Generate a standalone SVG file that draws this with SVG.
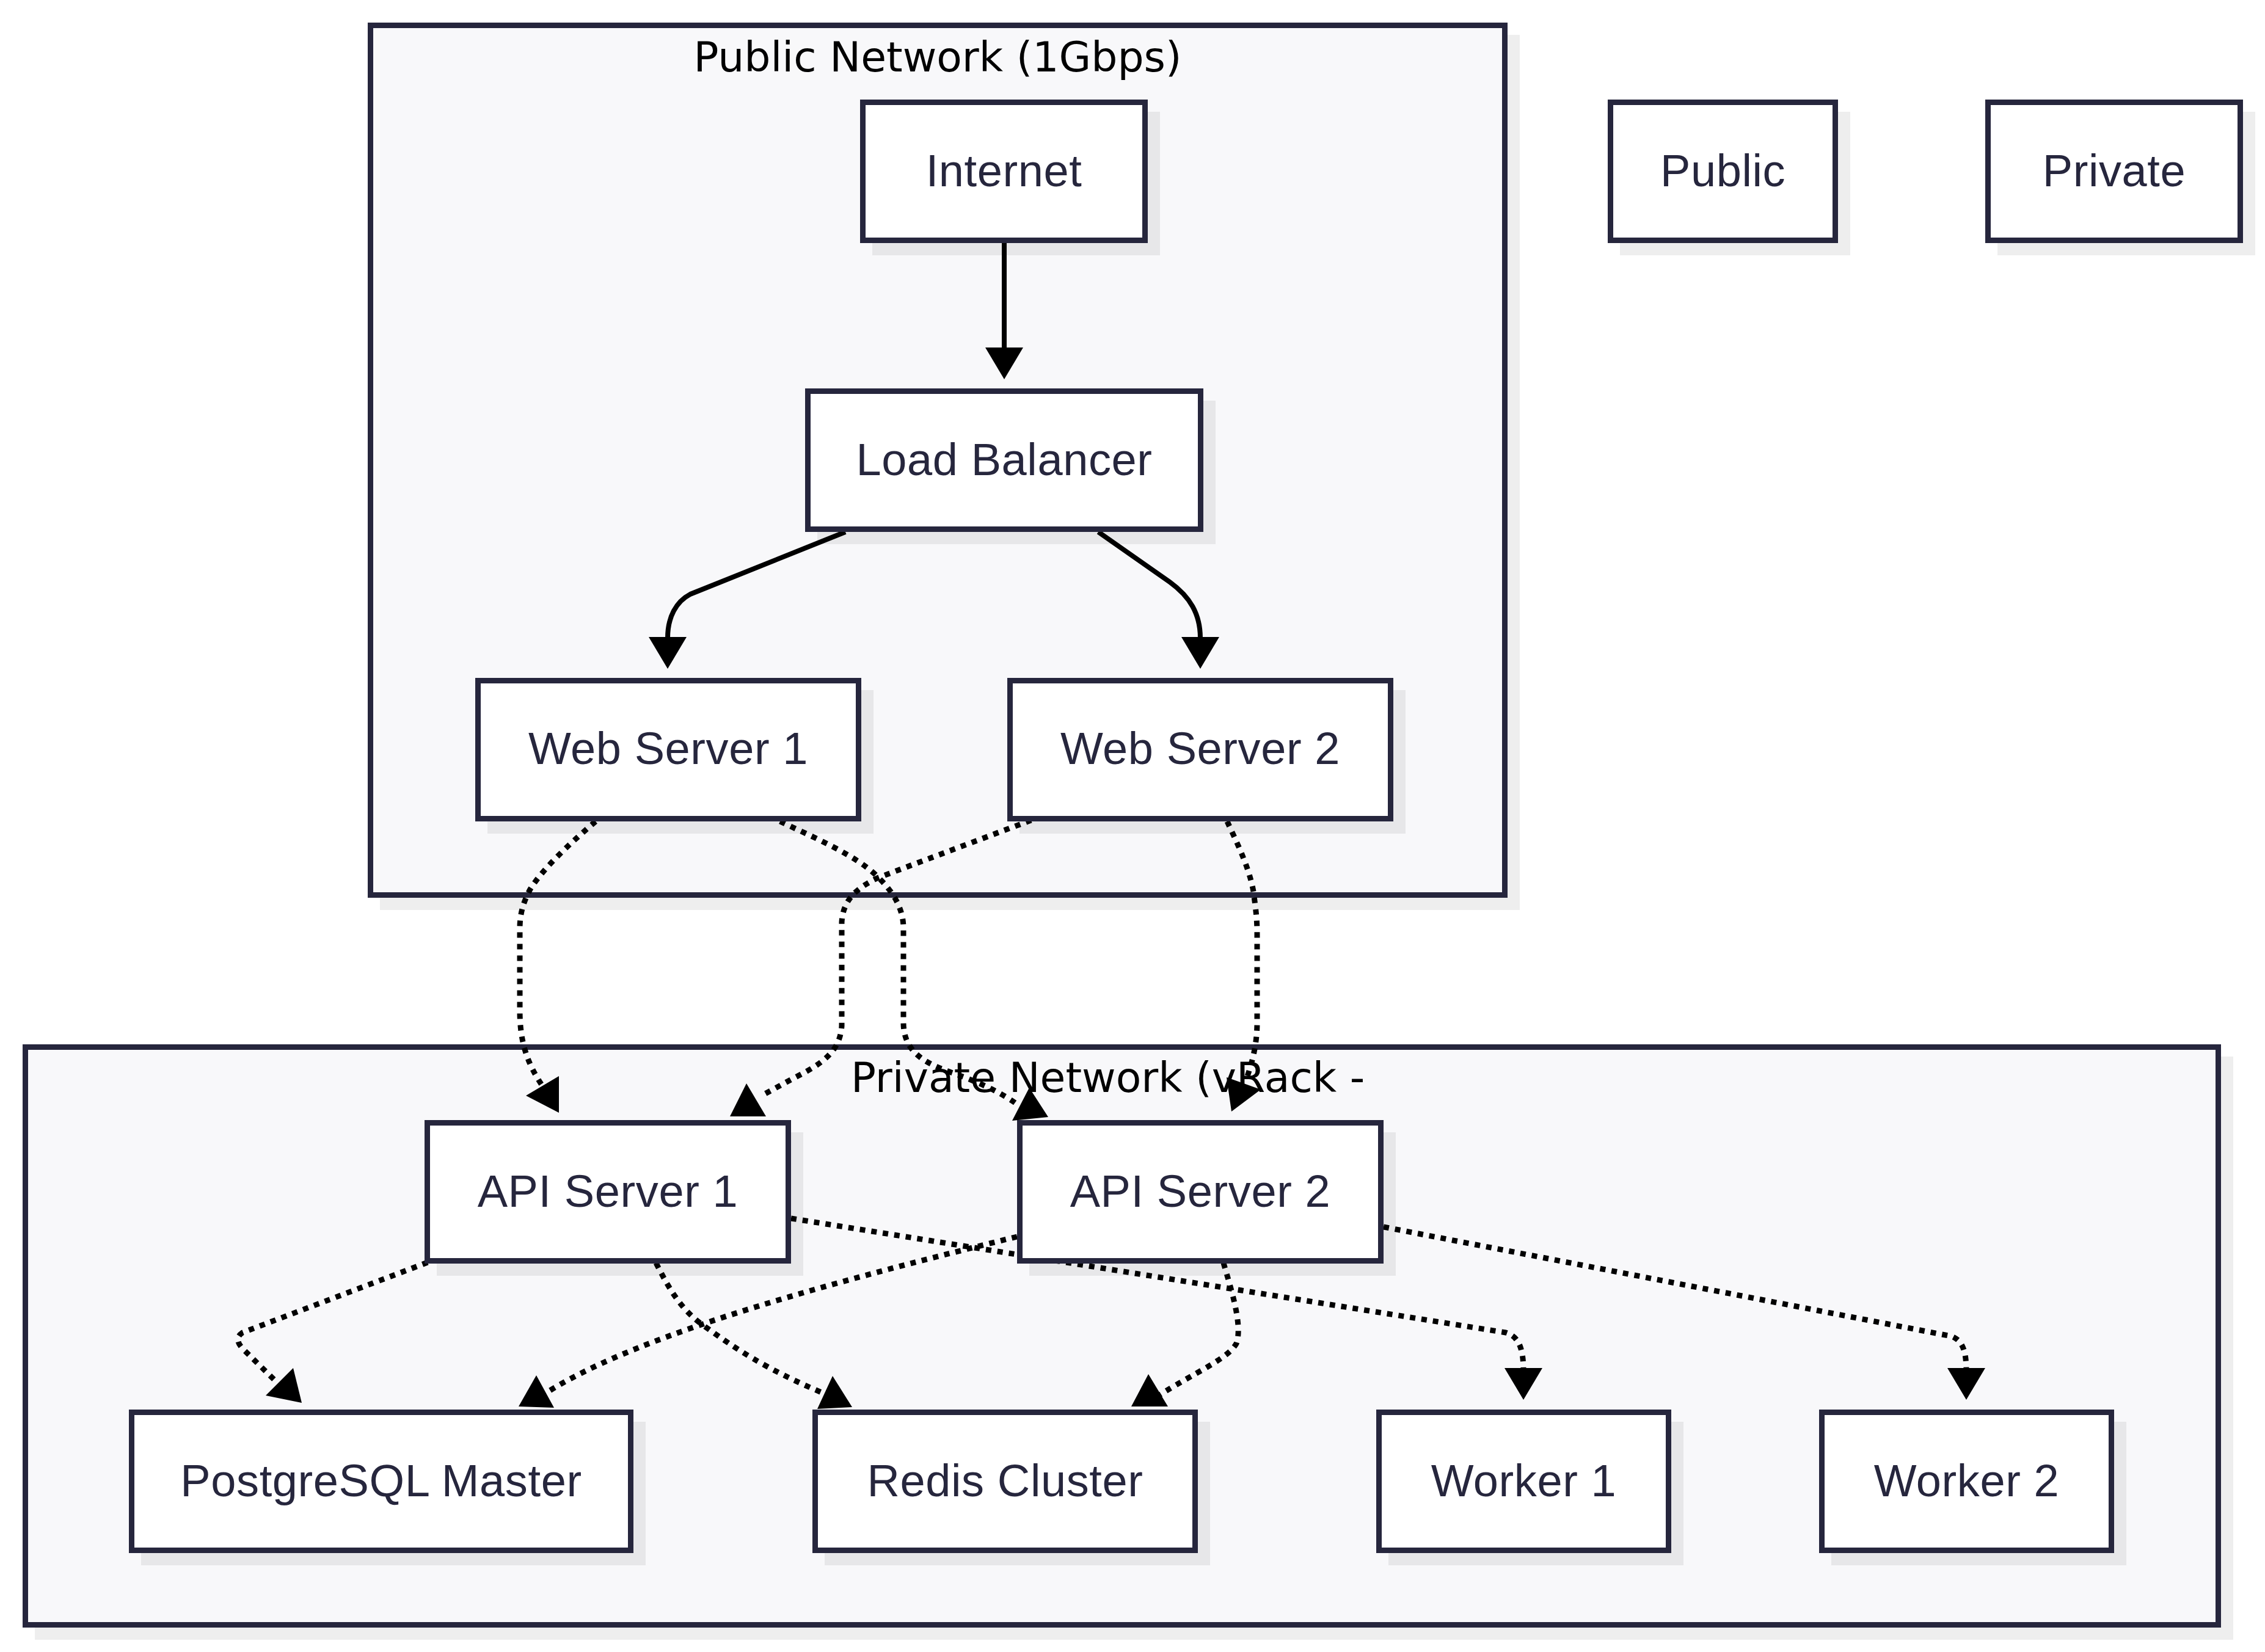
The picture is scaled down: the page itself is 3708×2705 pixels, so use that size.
<svg xmlns="http://www.w3.org/2000/svg" width="3708" height="2705" viewBox="0 0 3708 2705">
<style>
.cluster{fill:#f8f8fa;stroke:#26263d;stroke-width:9}
.shadow{fill:#000;fill-opacity:0.065}
.node{fill:#ffffff;stroke:#26263d;stroke-width:9}
.label{font-family:"Liberation Sans",Arial,sans-serif;font-size:74px;letter-spacing:0.6px;fill:#26263d;text-anchor:middle}
.ctitle{font-family:"DejaVu Sans",sans-serif;font-size:68px;fill:#000}
.edge{fill:none;stroke:#000;stroke-width:8}
.dotted{fill:none;stroke:#000;stroke-width:9;stroke-dasharray:9 10}
.arrow{fill:#000}
</style>
<rect width="3708" height="2705" fill="#ffffff"/>
<g id="clusters">
<g id="public-network">
<rect class="shadow" x="622" y="57" width="1866" height="1433"/>
<rect class="cluster" x="606.5" y="41.5" width="1857" height="1424"/>
<text class="ctitle" x="1535" y="117" text-anchor="middle">Public Network (1Gbps)</text>
</g>
<g id="private-network">
<rect class="shadow" x="57" y="1730" width="3599" height="955"/>
<rect class="cluster" x="41.5" y="1714.5" width="3590" height="946"/>
<text class="ctitle" x="1393" y="1788">Private Network (vRack -</text>
</g>
</g>
<g id="connectors">
<path class="edge" d="M1644,398 L1644,572"/>
<polygon class="arrow" points="1644,621 1613,569 1675,569"/>
<path class="edge" d="M1384,871 L1130,973 C1107,985 1093,1010 1093,1045"/>
<polygon class="arrow" points="1093,1095 1062,1043 1124,1043"/>
<path class="edge" d="M1798,871 L1915,953 C1948,977 1965,1005 1965,1045"/>
<polygon class="arrow" points="1965,1095 1934,1043 1996,1043"/>
<path class="dotted" d="M975,1345 C940,1375 890,1420 868,1456 C855,1480 851,1500 851,1520 L851,1655 C851,1700 860,1740 893,1785"/>
<polygon class="arrow" points="861,1794 915,1762 915,1822"/>
<path class="dotted" d="M1277,1345 C1330,1370 1400,1400 1434,1433 C1465,1462 1479,1490 1479,1520 L1479,1674 C1479,1720 1510,1740 1560,1757 C1610,1775 1640,1790 1665,1808"/>
<polygon class="arrow" points="1685,1781 1657,1835 1716,1829"/>
<path class="dotted" d="M1688,1343 L1438,1437 C1400,1455 1380,1475 1378,1510 L1378,1680 C1375,1720 1350,1740 1300,1765 L1245,1795"/>
<polygon class="arrow" points="1222,1774 1195,1828 1254,1828"/>
<path class="dotted" d="M2009,1345 C2025,1380 2045,1420 2052,1460 C2056,1490 2058,1505 2058,1530 L2058,1674 C2058,1710 2050,1740 2040,1768"/>
<polygon class="arrow" points="2008,1764 2064,1784 2016,1820"/>
<path class="dotted" d="M700,2067 L397,2182 C385,2190 388,2200 402,2213 L462,2272"/>
<polygon class="arrow" points="480,2240 435,2285 494,2297"/>
<path class="dotted" d="M1074,2068 C1100,2120 1120,2150 1161,2177 C1200,2205 1250,2240 1345,2280"/>
<polygon class="arrow" points="1363,2253 1338,2307 1395,2304"/>
<path class="dotted" d="M1665,2025 C1400,2090 1050,2180 892,2282"/>
<polygon class="arrow" points="878,2252 849,2303 907,2305"/>
<path class="dotted" d="M2003,2068 C2015,2110 2035,2170 2024,2200 C2010,2225 1960,2245 1892,2288"/>
<polygon class="arrow" points="1880,2250 1852,2303 1912,2303"/>
<path class="dotted" d="M1295,1995 L2465,2182 C2485,2188 2494,2205 2494,2245"/>
<polygon class="arrow" points="2494,2292 2463,2240 2525,2240"/>
<path class="dotted" d="M2265,2009 L3195,2188 C3212,2195 3219,2210 3219,2245"/>
<polygon class="arrow" points="3219,2292 3188,2240 3250,2240"/>
</g>
<g id="node-internet">
<rect class="shadow" x="1428" y="183" width="471" height="235"/>
<rect class="node" x="1412.5" y="167.5" width="462" height="226"/>
<text class="label" x="1643.5" y="305">Internet</text>
</g>
<g id="node-public">
<rect class="shadow" x="2652" y="183" width="377" height="235"/>
<rect class="node" x="2636.5" y="167.5" width="368" height="226"/>
<text class="label" x="2820.5" y="305">Public</text>
</g>
<g id="node-private">
<rect class="shadow" x="3270" y="183" width="422" height="235"/>
<rect class="node" x="3254.5" y="167.5" width="413" height="226"/>
<text class="label" x="3461" y="305">Private</text>
</g>
<g id="node-lb">
<rect class="shadow" x="1338" y="656" width="652" height="235"/>
<rect class="node" x="1322.5" y="640.5" width="643" height="226"/>
<text class="label" x="1644" y="778">Load Balancer</text>
</g>
<g id="node-ws1">
<rect class="shadow" x="798" y="1130" width="632" height="235"/>
<rect class="node" x="782.5" y="1114.5" width="623" height="226"/>
<text class="label" x="1094" y="1251">Web Server 1</text>
</g>
<g id="node-ws2">
<rect class="shadow" x="1669" y="1130" width="632" height="235"/>
<rect class="node" x="1653.5" y="1114.5" width="623" height="226"/>
<text class="label" x="1965" y="1251">Web Server 2</text>
</g>
<g id="node-api1">
<rect class="shadow" x="715" y="1854" width="600" height="235"/>
<rect class="node" x="699.5" y="1838.5" width="591" height="226"/>
<text class="label" x="995" y="1976">API Server 1</text>
</g>
<g id="node-api2">
<rect class="shadow" x="1685" y="1854" width="600" height="235"/>
<rect class="node" x="1669.5" y="1838.5" width="591" height="226"/>
<text class="label" x="1965" y="1976">API Server 2</text>
</g>
<g id="node-pg">
<rect class="shadow" x="231" y="2328" width="826" height="235"/>
<rect class="node" x="215.5" y="2312.5" width="817" height="226"/>
<text class="label" x="624" y="2450">PostgreSQL Master</text>
</g>
<g id="node-redis">
<rect class="shadow" x="1350" y="2328" width="631" height="235"/>
<rect class="node" x="1334.5" y="2312.5" width="622" height="226"/>
<text class="label" x="1645.5" y="2450">Redis Cluster</text>
</g>
<g id="node-worker1">
<rect class="shadow" x="2273" y="2328" width="483" height="235"/>
<rect class="node" x="2257.5" y="2312.5" width="474" height="226"/>
<text class="label" x="2494.5" y="2450">Worker 1</text>
</g>
<g id="node-worker2">
<rect class="shadow" x="2998" y="2328" width="483" height="235"/>
<rect class="node" x="2982.5" y="2312.5" width="474" height="226"/>
<text class="label" x="3219.5" y="2450">Worker 2</text>
</g>
</svg>
